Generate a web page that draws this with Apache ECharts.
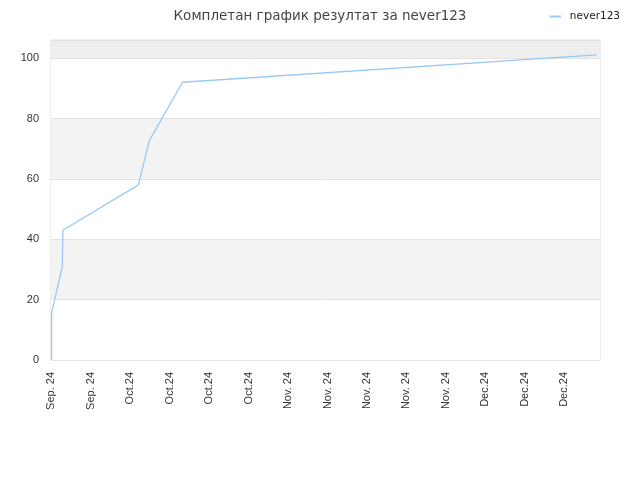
<!DOCTYPE html>
<html>
<head>
<meta charset="utf-8">
<script src="https://cdn.jsdelivr.net/npm/echarts@6/dist/echarts.min.js"></script>
<style>html,body{margin:0;padding:0;background:#fff}#c{width:640px;height:480px}</style>
</head>
<body>
<div id="c"></div>
<script>
// Data: day offset from the first tick (Sep. 20) and score
const days = [0.1, 0.1, 2.0, 2.1, 15.5, 17.4, 23.3, 96.7];
const scores = [0, 15.5, 30.9, 43, 58, 72.6, 92, 101.1];
const xTickLabels = ['Sep. 24','Sep. 24','Oct.24','Oct.24','Oct.24','Oct.24','Nov. 24','Nov. 24','Nov. 24','Nov. 24','Nov. 24','Dec.24','Dec.24','Dec.24'];
const seriesName = 'never123';
const titleText = 'Комплетан график резултат за never123';

const chart = echarts.init(document.getElementById('c'), null, {renderer: 'canvas'});
chart.setOption({
  animation: false,
  backgroundColor: '#fff',
  textStyle: {fontFamily: 'DejaVu Sans'},
  title: {
    text: titleText, left: 'center', top: 4,
    textStyle: {fontSize: 13.5, fontWeight: 'normal', color: '#444', fontFamily: 'DejaVu Sans'}
  },
  legend: {
    data: [seriesName], right: 15, top: 6,
    icon: 'rect', itemWidth: 11, itemHeight: 2, itemGap: 9,
    textStyle: {fontSize: 10.5, color: '#222', fontFamily: 'DejaVu Sans', padding: [0, 0, 0, 4]}
  },
  grid: {left: 51, right: 40, top: 40, bottom: 120, show: true, borderColor: '#dcdcdc', borderWidth: 1, backgroundColor: 'transparent'},
  xAxis: {
    type: 'value', min: 0, max: 97.3, interval: 7,
    axisLine: {show: false}, axisTick: {show: false},
    splitLine: {show: false},
    axisLabel: {
      rotate: 90, fontSize: 11, color: '#333', margin: 12, showMaxLabel: false,
      fontFamily: 'Liberation Sans',
      formatter: v => xTickLabels[Math.round(v / 7)] || ''
    }
  },
  yAxis: {
    type: 'value', min: 0, max: 106, interval: 20,
    axisLine: {show: false}, axisTick: {show: false},
    axisLabel: {fontSize: 11, color: '#333', margin: 12, showMaxLabel: false, fontFamily: 'Liberation Sans'},
    splitLine: {show: true, lineStyle: {color: '#e2e2e2', width: 1}},
    splitArea: {show: true, areaStyle: {color: ['#ffffff', '#f3f3f3', '#ffffff', '#f3f3f3', '#ffffff', '#eeeeee']}}
  },
  series: [{
    name: seriesName, type: 'line',
    data: days.map((d, i) => [d, scores[i]]),
    showSymbol: false, symbol: 'none',
    lineStyle: {color: '#99c8f5', width: 1.3},
    itemStyle: {color: '#99c8f5'}
  }]
});
</script>
</body>
</html>
